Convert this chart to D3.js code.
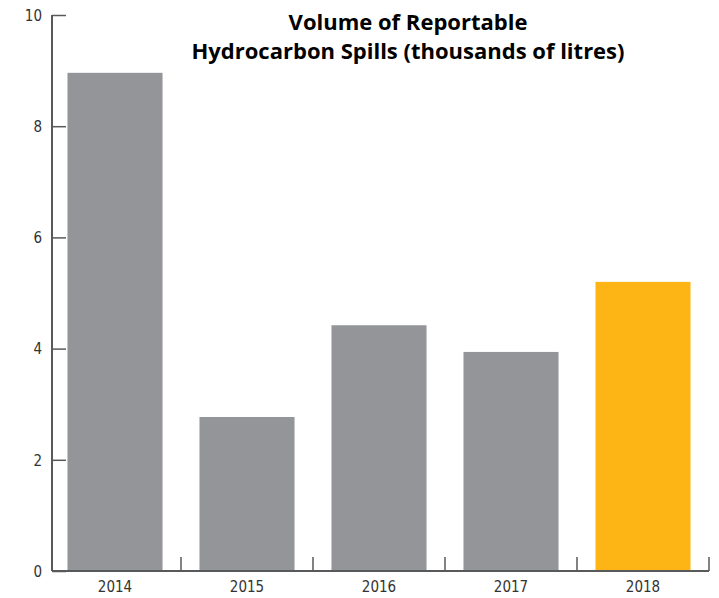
<!DOCTYPE html>
<html lang="en">
<head>
    <meta charset="UTF-8">
    <title>Volume of Reportable Hydrocarbon Spills</title>
    <script src="https://d3js.org/d3.v7.min.js"></script>
    <style>
        body { margin: 0; background: #fff; }
    </style>
</head>
<body>
    <svg width="719" height="598"></svg>

    <script>
        // Data
        const years = ["2014", "2015", "2016", "2017", "2018"];
        const volumes = [8.96, 2.77, 4.42, 3.94, 5.20];
        const barColors = ["#939598", "#939598", "#939598", "#939598", "#fdb515"];
        const yTicks = [0, 2, 4, 6, 8, 10];

        const svg = d3.select("svg");
        const axisColor = "#58595b";
        const labelFont = "'DejaVu Sans Condensed', 'Liberation Sans Narrow', sans-serif";

        const x = d3.scaleBand()
            .domain(years)
            .range([49, 709])
            .paddingInner(0.28)
            .paddingOuter(0.14);

        const y = d3.scaleLinear()
            .domain([0, 10])
            .range([571, 15]);

        // Bars
        svg.selectAll("rect.bar")
            .data(years)
            .join("rect")
            .attr("class", "bar")
            .attr("x", d => x(d))
            .attr("width", x.bandwidth())
            .attr("y", (d, i) => y(volumes[i]))
            .attr("height", (d, i) => y(0) - y(volumes[i]))
            .attr("fill", (d, i) => barColors[i]);

        // Y axis (ticks point inward)
        const yAxis = svg.append("g")
            .attr("transform", "translate(52,0)")
            .call(d3.axisRight(y).tickValues(yTicks).tickSize(14).tickPadding(0));
        yAxis.select(".domain").attr("stroke", axisColor).attr("stroke-width", 2)
            .attr("d", `M0,${y(10)}V${y(0)}`);
        yAxis.selectAll(".tick line").attr("stroke", axisColor).attr("stroke-width", 1.5);
        yAxis.selectAll(".tick text")
            .attr("x", -10)
            .attr("text-anchor", "end")
            .attr("dy", "0.35em")
            .style("font-family", labelFont)
            .style("font-size", "15px")
            .attr("fill", "#333");

        // X axis
        const xAxis = svg.append("g")
            .attr("transform", `translate(0,${y(0)})`)
            .call(d3.axisBottom(x).tickSize(0).tickPadding(10));
        xAxis.select(".domain").attr("stroke", axisColor).attr("stroke-width", 2)
            .attr("d", `M52,0H709`);
        xAxis.selectAll(".tick text")
            .style("font-family", labelFont)
            .style("font-size", "15px")
            .attr("fill", "#333");

        // Category boundary ticks
        const half = (x.step() - x.bandwidth()) / 2;
        svg.append("g")
            .selectAll("line")
            .data(years)
            .join("line")
            .attr("x1", d => x(d) + x.bandwidth() + half)
            .attr("x2", d => x(d) + x.bandwidth() + half)
            .attr("y1", y(0))
            .attr("y2", y(0) - 14)
            .attr("stroke", axisColor)
            .attr("stroke-width", 1.5);

        // Title
        const title = svg.append("text")
            .attr("x", 408)
            .attr("text-anchor", "middle")
            .style("font-family", "'Open Sans', sans-serif")
            .style("font-weight", "bold")
            .style("font-size", "22px")
            .attr("fill", "#000");
        title.append("tspan").attr("x", 408).attr("y", 30).text("Volume of Reportable");
        title.append("tspan").attr("x", 408).attr("y", 59).text("Hydrocarbon Spills (thousands of litres)");
    </script>
</body>
</html>
